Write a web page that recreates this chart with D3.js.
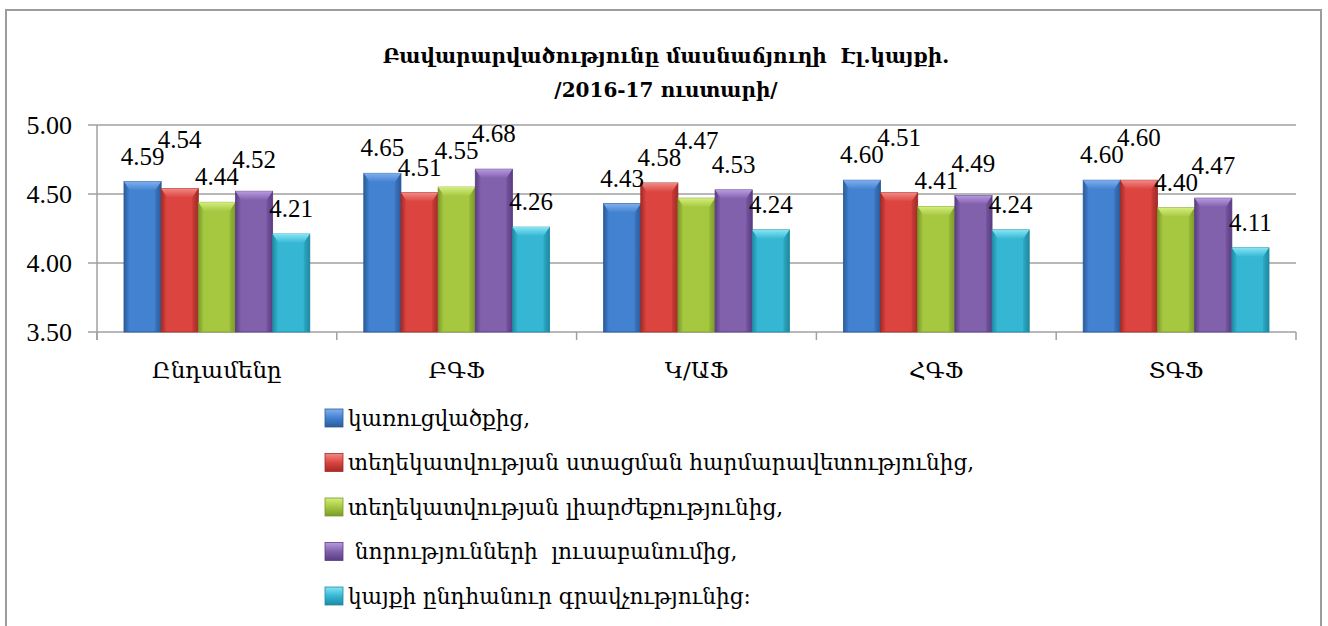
<!DOCTYPE html>
<html>
<head>
<meta charset="utf-8">
<script src="https://cdn.jsdelivr.net/npm/d3@7/dist/d3.min.js"></script>
<style>
  html, body { margin: 0; padding: 0; background: #fff; }
  svg { display: block; }
  .serif { font-family: "DejaVu Serif", "Liberation Serif", "Times New Roman", serif; }
  .num { font-family: "Liberation Serif", "Times New Roman", "DejaVu Serif", serif; }
</style>
</head>
<body>
<svg id="chart" width="1328" height="626"></svg>
<script>
// ---------- data ----------
const titleLines = ["Բավարարվածությունը մասնաճյուղի  Էլ.կայքի.", "/2016-17 ուստարի/"];
const categories = ["Ընդամենը", "ԲԳՖ", "Կ/ԱՖ", "ՀԳՖ", "ՏԳՖ"];
const seriesNames = [
  "կառուցվածքից,",
  "տեղեկատվության ստացման հարմարավետությունից,",
  "տեղեկատվության լիարժեքությունից,",
  " նորությունների  լուսաբանումից,",
  "կայքի ընդհանուր գրավչությունից:"
];
const structure   = [4.59, 4.65, 4.43, 4.60, 4.60];
const convenience = [4.54, 4.51, 4.58, 4.51, 4.60];
const completeness= [4.44, 4.55, 4.47, 4.41, 4.40];
const news        = [4.52, 4.68, 4.53, 4.49, 4.47];
const attractive  = [4.21, 4.26, 4.24, 4.24, 4.11];
const yTicks = [3.50, 4.00, 4.50, 5.00];
const seriesValues = [structure, convenience, completeness, news, attractive];

// ---------- style ----------
const colors = [
  {mid: "#4381d1", dark: "#2a5b98", light: "#7fb0ee"},
  {mid: "#dc443f", dark: "#a32a26", light: "#f08a86"},
  {mid: "#a6c840", dark: "#7a9a29", light: "#d4ee7c"},
  {mid: "#8160ac", dark: "#5a3d82", light: "#b89ae0"},
  {mid: "#35b7d3", dark: "#1e8aa2", light: "#86e4f6"}
];

const svg = d3.select("#chart");
const defs = svg.append("defs");

// outer frame
svg.append("rect").attr("x", 6).attr("y", 10).attr("width", 1315).attr("height", 640)
  .attr("fill", "#fff").attr("stroke", "#9c9c9c").attr("stroke-width", 2);

// title
svg.append("g").selectAll("text").data(titleLines).join("text")
  .attr("class", "serif")
  .attr("x", 666).attr("y", (d, i) => 63 + i * 34)
  .attr("text-anchor", "middle")
  .style("font-size", "20px").style("font-weight", "bold")
  .attr("fill", "#000").attr("xml:space", "preserve")
  .style("white-space", "pre").text(d => d);

// plot geometry
const plot = {left: 97, right: 1296, top: 125, bottom: 332};

const x0 = d3.scaleBand().domain(categories).range([plot.left, plot.right]).paddingInner(0).paddingOuter(0);
const x1 = d3.scaleBand().domain(d3.range(seriesValues.length))
  .range([0, x0.bandwidth()]).paddingInner(0).paddingOuter(0.726);
const y = d3.scaleLinear().domain([3.5, 5.0]).range([plot.bottom, plot.top]);

// gridlines
svg.append("g").selectAll("line").data(yTicks).join("line")
  .attr("x1", plot.left - 9).attr("x2", plot.right)
  .attr("y1", d => y(d)).attr("y2", d => y(d))
  .attr("stroke", "#a0a0a0").attr("stroke-width", 1.5);

// y axis line
svg.append("line").attr("x1", plot.left).attr("x2", plot.left)
  .attr("y1", plot.top).attr("y2", plot.bottom + 8)
  .attr("stroke", "#a0a0a0").attr("stroke-width", 1.5);

// category tick marks
const catTicks = categories.map(c => x0(c)).concat([plot.right]);
svg.append("g").selectAll("line").data(catTicks).join("line")
  .attr("x1", d => d).attr("x2", d => d)
  .attr("y1", plot.bottom).attr("y2", plot.bottom + 8)
  .attr("stroke", "#a0a0a0").attr("stroke-width", 1.5);

// y tick labels
svg.append("g").selectAll("text").data(yTicks).join("text")
  .attr("class", "num")
  .attr("x", 72).attr("y", d => y(d)).attr("dy", "0.35em")
  .attr("text-anchor", "end")
  .style("font-size", "26px")
  .attr("fill", "#000").text(d => d.toFixed(2));

// category labels
svg.append("g").selectAll("text").data(categories).join("text")
  .attr("class", "serif")
  .attr("x", d => x0(d) + x0.bandwidth() / 2).attr("y", 378)
  .attr("text-anchor", "middle")
  .style("font-size", "23px")
  .attr("fill", "#000").text(d => d);

// gradients
colors.forEach((c, i) => {
  const g = defs.append("linearGradient").attr("id", "body" + i)
    .attr("x1", "0").attr("x2", "1").attr("y1", "0").attr("y2", "0");
  g.append("stop").attr("offset", "0").attr("stop-color", c.dark);
  g.append("stop").attr("offset", "0.15").attr("stop-color", c.mid);
  g.append("stop").attr("offset", "0.85").attr("stop-color", c.mid);
  g.append("stop").attr("offset", "1").attr("stop-color", c.dark);
  const t = defs.append("linearGradient").attr("id", "top" + i)
    .attr("x1", "0").attr("x2", "0").attr("y1", "0").attr("y2", "1");
  t.append("stop").attr("offset", "0").attr("stop-color", c.light);
  t.append("stop").attr("offset", "1").attr("stop-color", c.mid);
  const s = defs.append("linearGradient").attr("id", "sq" + i)
    .attr("x1", "0").attr("x2", "0").attr("y1", "0").attr("y2", "1");
  s.append("stop").attr("offset", "0").attr("stop-color", c.light);
  s.append("stop").attr("offset", "0.5").attr("stop-color", c.mid);
  s.append("stop").attr("offset", "1").attr("stop-color", c.dark);
});

// bars
const barData = [];
categories.forEach((cat, ci) => {
  seriesValues.forEach((vals, si) => {
    barData.push({cat, ci, si, v: vals[ci]});
  });
});

const bars = svg.append("g").selectAll("g").data(barData).join("g")
  .attr("transform", d => `translate(${x0(d.cat) + x1(d.si)},0)`);
const bw = x1.bandwidth();
const bev = 6;
bars.append("rect")
  .attr("x", 0).attr("width", bw)
  .attr("y", d => y(d.v)).attr("height", d => plot.bottom - y(d.v))
  .attr("fill", d => `url(#body${d.si})`)
  .attr("stroke", d => colors[d.si].dark).attr("stroke-width", 0.8);
bars.append("path")
  .attr("d", d => {
    const t = y(d.v);
    return `M0,${t} L${bw},${t} L${bw - bev},${t + 9} L${bev},${t + 9} Z`;
  })
  .attr("fill", d => `url(#top${d.si})`);
bars.append("path")
  .attr("d", d => {
    const t = y(d.v);
    return `M${bw},${t} L${bw - bev},${t + 9} L${bw - bev},${plot.bottom} L${bw},${plot.bottom} Z`;
  })
  .attr("fill", d => colors[d.si].dark).attr("opacity", 0.35);

// value labels: placed above bars, lifted when colliding with the previous label
const labelW = 44, labelH = 17, gap = 17;
const labels = [];
categories.forEach((cat, ci) => {
  let prev = null;
  seriesValues.forEach((vals, si) => {
    const cx = x0(cat) + x1(si) + bw / 2;
    let base = y(vals[ci]) - gap;
    if (prev && Math.abs(prev.cx - cx) < labelW) {
      const overlapY = (base > prev.base - labelH) && (base - labelH < prev.base);
      if (overlapY) base = prev.base - labelH;
    }
    const lab = {cx, base, text: vals[ci].toFixed(2)};
    labels.push(lab);
    prev = lab;
  });
});
svg.append("g").selectAll("text").data(labels).join("text")
  .attr("class", "num")
  .attr("x", d => d.cx).attr("y", d => d.base)
  .attr("text-anchor", "middle")
  .style("font-size", "25px")
  .attr("fill", "#000").text(d => d.text);

// legend
const legend = svg.append("g").selectAll("g").data(seriesNames).join("g")
  .attr("transform", (d, i) => `translate(325, ${418 + i * 44.5})`);
legend.append("rect").attr("x", 0).attr("y", -9).attr("width", 18).attr("height", 18)
  .attr("fill", (d, i) => `url(#sq${i})`)
  .attr("stroke", (d, i) => colors[i].dark).attr("stroke-width", 0.8);
legend.append("text").attr("class", "serif")
  .attr("x", 23).attr("y", 0).attr("dy", "0.35em")
  .style("font-size", "21.6px")
  .attr("fill", "#000").attr("xml:space", "preserve")
  .style("white-space", "pre").text(d => d);
</script>
</body>
</html>
